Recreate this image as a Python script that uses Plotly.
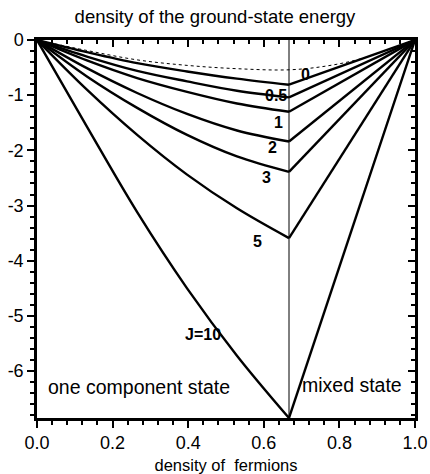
import plotly.graph_objects as go

# ---------------- data ----------------
x_left = [0.0, 0.132, 0.265, 0.397, 0.529, 2 / 3]
x_right = [2 / 3, 1.0]
x_transition = 2 / 3

E_J0 = [0.0, -0.22, -0.42, -0.57, -0.70, -0.81]
E_J05 = [0.0, -0.30, -0.56, -0.75, -0.92, -1.04]
E_J1 = [0.0, -0.37, -0.69, -0.94, -1.15, -1.30]
E_J2 = [0.0, -0.51, -0.96, -1.34, -1.64, -1.84]
E_J3 = [0.0, -0.66, -1.23, -1.72, -2.11, -2.39]
E_J5 = [0.0, -0.90, -1.72, -2.44, -3.05, -3.59]
E_J10 = [0.0, -1.57, -3.12, -4.50, -5.72, -6.85]
E_end = 0.0

x_dotted = [0.0, 0.132, 0.265, 0.397, 0.529, 0.667, 0.767, 0.857, 0.947, 1.0]
E_dotted = [0.0, -0.19, -0.36, -0.46, -0.52, -0.54, -0.47, -0.34, -0.13, 0.0]

curve_names = ["0", "0.5", "1", "2", "3", "5", "J=10"]
curves = [E_J0, E_J05, E_J1, E_J2, E_J3, E_J5, E_J10]
label_x = [0.709, 0.632, 0.640, 0.622, 0.606, 0.582, 0.439]
label_y = [-0.63, -1.00, -1.49, -1.94, -2.50, -3.66, -5.34]

region_text = ["one component state", "mixed state"]
region_x = [0.27, 0.833]
region_y = [-6.29, -6.25]

x_ticks = [0.0, 0.2, 0.4, 0.6, 0.8, 1.0]
x_ticktext = ["0.0", "0.2", "0.4", "0.6", "0.8", "1.0"]
y_ticks = [0, -1, -2, -3, -4, -5, -6]
y_ticktext = ["0", "-1", "-2", "-3", "-4", "-5", "-6"]
y_range = [-6.85, 0.0]
x_range = [0.0, 1.0]

# ---------------- figure ----------------
FONT = "Liberation Sans, Arial, sans-serif"
fig = go.Figure()

fig.add_trace(go.Scatter(x=x_dotted, y=E_dotted, mode="lines",
                         line=dict(color="black", width=1, dash="dot", shape="spline"),
                         showlegend=False, hoverinfo="skip"))

for E in curves:
    fig.add_trace(go.Scatter(x=x_left, y=E, mode="lines",
                             line=dict(color="black", width=2.4, shape="spline", smoothing=1.0),
                             showlegend=False, hoverinfo="skip"))
    fig.add_trace(go.Scatter(x=x_right, y=[E[-1], E_end], mode="lines",
                             line=dict(color="black", width=2.4),
                             showlegend=False, hoverinfo="skip"))

# transition vertical line
fig.add_trace(go.Scatter(x=[x_transition, x_transition], y=y_range, mode="lines",
                         line=dict(color="black", width=1),
                         showlegend=False, hoverinfo="skip"))

# invisible trace for mirrored axes
fig.add_trace(go.Scatter(x=x_range, y=y_range, xaxis="x2", yaxis="y2", mode="markers",
                         marker=dict(opacity=0), showlegend=False, hoverinfo="skip"))

for name, lx, ly in zip(curve_names, label_x, label_y):
    fig.add_annotation(x=lx, y=ly, text="<b>" + name + "</b>", showarrow=False,
                       font=dict(family=FONT, size=16, color="black"))

for t, rx, ry in zip(region_text, region_x, region_y):
    fig.add_annotation(x=rx, y=ry, text=t, showarrow=False,
                       font=dict(family=FONT, size=19.5, color="black"))

axis_common = dict(showgrid=False, zeroline=False, linecolor="black", linewidth=2.5,
                   tickcolor="black", tickwidth=2, automargin=False)

fig.update_layout(
    width=430, height=474,
    margin=dict(l=37, r=15, t=40, b=56),
    paper_bgcolor="white", plot_bgcolor="white",
    font=dict(family=FONT, color="black"),
    title=dict(text="density of the ground-state energy", x=0.5, xanchor="center",
               y=1 - 17 / 474, yanchor="middle", yref="container",
               font=dict(family=FONT, size=18.5, color="black")),
    xaxis=dict(range=x_range, tickvals=x_ticks, ticktext=x_ticktext,
               ticks="outside", ticklen=7,
               minor=dict(dtick=0.04, ticks="outside", ticklen=4, tickcolor="black", tickwidth=2),
               tickfont=dict(size=18, family=FONT),
               title=dict(text="density of  fermions", font=dict(size=16.5, family=FONT), standoff=14),
               **axis_common),
    yaxis=dict(range=y_range, tickvals=y_ticks, ticktext=y_ticktext,
               ticks="outside", ticklen=7,
               minor=dict(dtick=0.2, tick0=0, ticks="outside", ticklen=4, tickcolor="black", tickwidth=2),
               tickfont=dict(size=18, family=FONT),
               **axis_common),
    xaxis2=dict(range=x_range, overlaying="x", side="top", tickvals=x_ticks,
                showticklabels=False, ticks="inside", ticklen=7,
                minor=dict(dtick=0.04, ticks="inside", ticklen=4, tickcolor="black", tickwidth=2),
                **axis_common),
    yaxis2=dict(range=y_range, overlaying="y", side="right", tickvals=y_ticks,
                showticklabels=False, ticks="inside", ticklen=7,
                minor=dict(dtick=0.2, tick0=0, ticks="inside", ticklen=4, tickcolor="black", tickwidth=2),
                **axis_common),
)

fig.write_html("out.html")
